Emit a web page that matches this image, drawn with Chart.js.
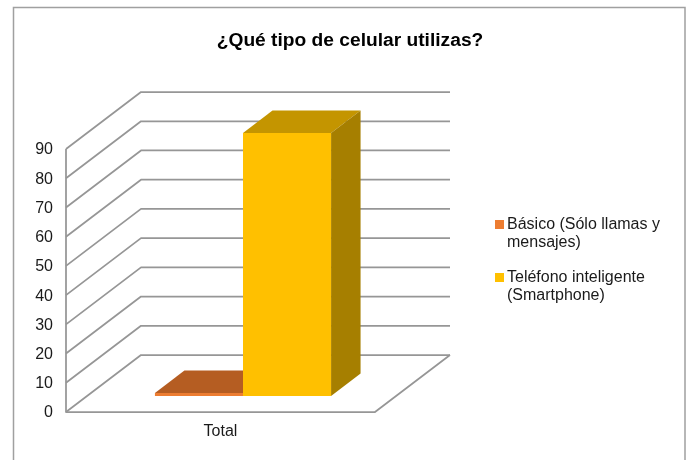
<!DOCTYPE html>
<html lang="es">
<head>
<meta charset="utf-8">
<style>html,body{margin:0;padding:0;background:#fff;overflow:hidden}canvas{display:block}</style>
<script src="https://cdn.jsdelivr.net/npm/chart.js@4"></script>
</head>
<body>
<canvas id="c" width="687" height="460"></canvas>
<script>
const titleText = "¿Qué tipo de celular utilizas?";
const categories = ["Total"];
const basicoLabel = ["Básico (Sólo llamas y", "mensajes)"];
const smartLabel = ["Teléfono inteligente", "(Smartphone)"];
const basicoValues = [1];
const smartValues = [90];
const yTicks = [0, 10, 20, 30, 40, 50, 60, 70, 80, 90];

const FONT = '"Liberation Sans", Arial, sans-serif';
const GRID = '#969696';
const wallDX = 75, wallDY = 57, barShiftX = 22.5, barShiftY = 16, depthX = 29.5, depthY = 22.5;
const shades = [{top:'#b55d22',side:'#9c4f1c'},{top:'#c49500',side:'#a67f00'}];

function swatch(color){
  const s = document.createElement('canvas'); s.width = 11; s.height = 9;
  const g = s.getContext('2d'); g.fillStyle = color; g.fillRect(2,0,9,9);
  return s;
}
function poly(ctx, pts, fill){
  ctx.beginPath(); pts.forEach((p,i)=> i?ctx.lineTo(p[0],p[1]):ctx.moveTo(p[0],p[1]));
  ctx.closePath(); ctx.fillStyle = fill; ctx.fill();
}
const bar3d = {
  id:'bar3d',
  afterLayout(chart){
    const l = chart.legend, t = chart.titleBlock;
    l.left = 481; l.right = 687; l.top = 199.5; l.bottom = 340;
    t.left = 15; t.right = 685;
  },
  beforeDraw(chart){
    const c = chart.ctx;
    c.save(); c.strokeStyle = '#a0a0a0'; c.lineWidth = 1.5;
    c.beginPath(); c.moveTo(13.5,470); c.lineTo(13.5,7.5); c.lineTo(685,7.5); c.lineTo(685,470); c.stroke();
    c.restore();
  },
  beforeDatasetsDraw(chart){
    const c = chart.ctx, a = chart.chartArea, y = chart.scales.y;
    c.save(); c.strokeStyle = GRID; c.lineWidth = 1.75; c.lineJoin = 'round';
    yTicks.forEach(v=>{
      const p = y.getPixelForValue(v);
      c.beginPath(); c.moveTo(a.left,p); c.lineTo(a.left+wallDX,p-wallDY); c.lineTo(a.right+wallDX,p-wallDY);
      c.stroke();
    });
    const b = y.getPixelForValue(0);
    c.beginPath(); c.moveTo(a.left,y.getPixelForValue(yTicks[yTicks.length-1])); c.lineTo(a.left,b); c.lineTo(a.right,b); c.lineTo(a.right+wallDX,b-wallDY); c.stroke();
    c.restore();
    chart.data.datasets.forEach((d,i)=>{
      const meta = chart.getDatasetMeta(i);
      c.save(); c.translate(barShiftX,-barShiftY);
      meta.data.forEach(e=>{
        const x1 = e.x-e.width/2, x2 = e.x+e.width/2, top = e.y, base = e.base;
        poly(c,[[x1,top],[x2,top],[x2+depthX,top-depthY],[x1+depthX,top-depthY]],shades[i].top);
        poly(c,[[x2,top],[x2+depthX,top-depthY],[x2+depthX,base-depthY],[x2,base]],shades[i].side);
      });
      meta.controller.draw();
      c.restore();
    });
  },
  beforeDatasetDraw(){ return false; }
};
new Chart(document.getElementById('c'),{
  type:'bar',
  data:{labels:categories,datasets:[
    {label:basicoLabel,data:basicoValues,backgroundColor:'#ed7d31',borderWidth:0},
    {label:smartLabel,data:smartValues,backgroundColor:'#ffc000',borderWidth:0}
  ]},
  options:{
    responsive:false,animation:false,
    layout:{padding:{left:22.2,right:194.4,top:0,bottom:8.8}},
    datasets:{bar:{barPercentage:1,categoryPercentage:0.57}},
    plugins:{
      tooltip:{enabled:false},
      title:{display:true,text:titleText,color:'#000',font:{family:FONT,size:19.2,weight:'bold'},padding:{top:29.5,bottom:96.5}},
      legend:{position:'right',align:'start',labels:{
        color:'#1a1a1a',font:{family:FONT,size:16,lineHeight:1.125},padding:17,boxWidth:1,boxHeight:9,usePointStyle:true,pointStyleWidth:1,
        generateLabels(chart){
          return chart.data.datasets.map((d,i)=>({text:d.label,fontColor:'#1a1a1a',fillStyle:d.backgroundColor,strokeStyle:d.backgroundColor,lineWidth:0,pointStyle:swatch(d.backgroundColor),hidden:false,datasetIndex:i}));
        }
      }}
    },
    scales:{
      x:{grid:{display:false,drawTicks:false},border:{display:false},ticks:{color:'#1a1a1a',padding:10,font:{family:FONT,size:16}}},
      y:{min:0,max:90,grid:{display:false,drawTicks:false},border:{display:false},
        afterBuildTicks(s){ s.ticks = yTicks.map(v=>({value:v})); },
        ticks:{color:'#1a1a1a',padding:13,labelOffset:1,font:{family:FONT,size:16}}}
    }
  },
  plugins:[bar3d]
});
</script>
</body>
</html>
